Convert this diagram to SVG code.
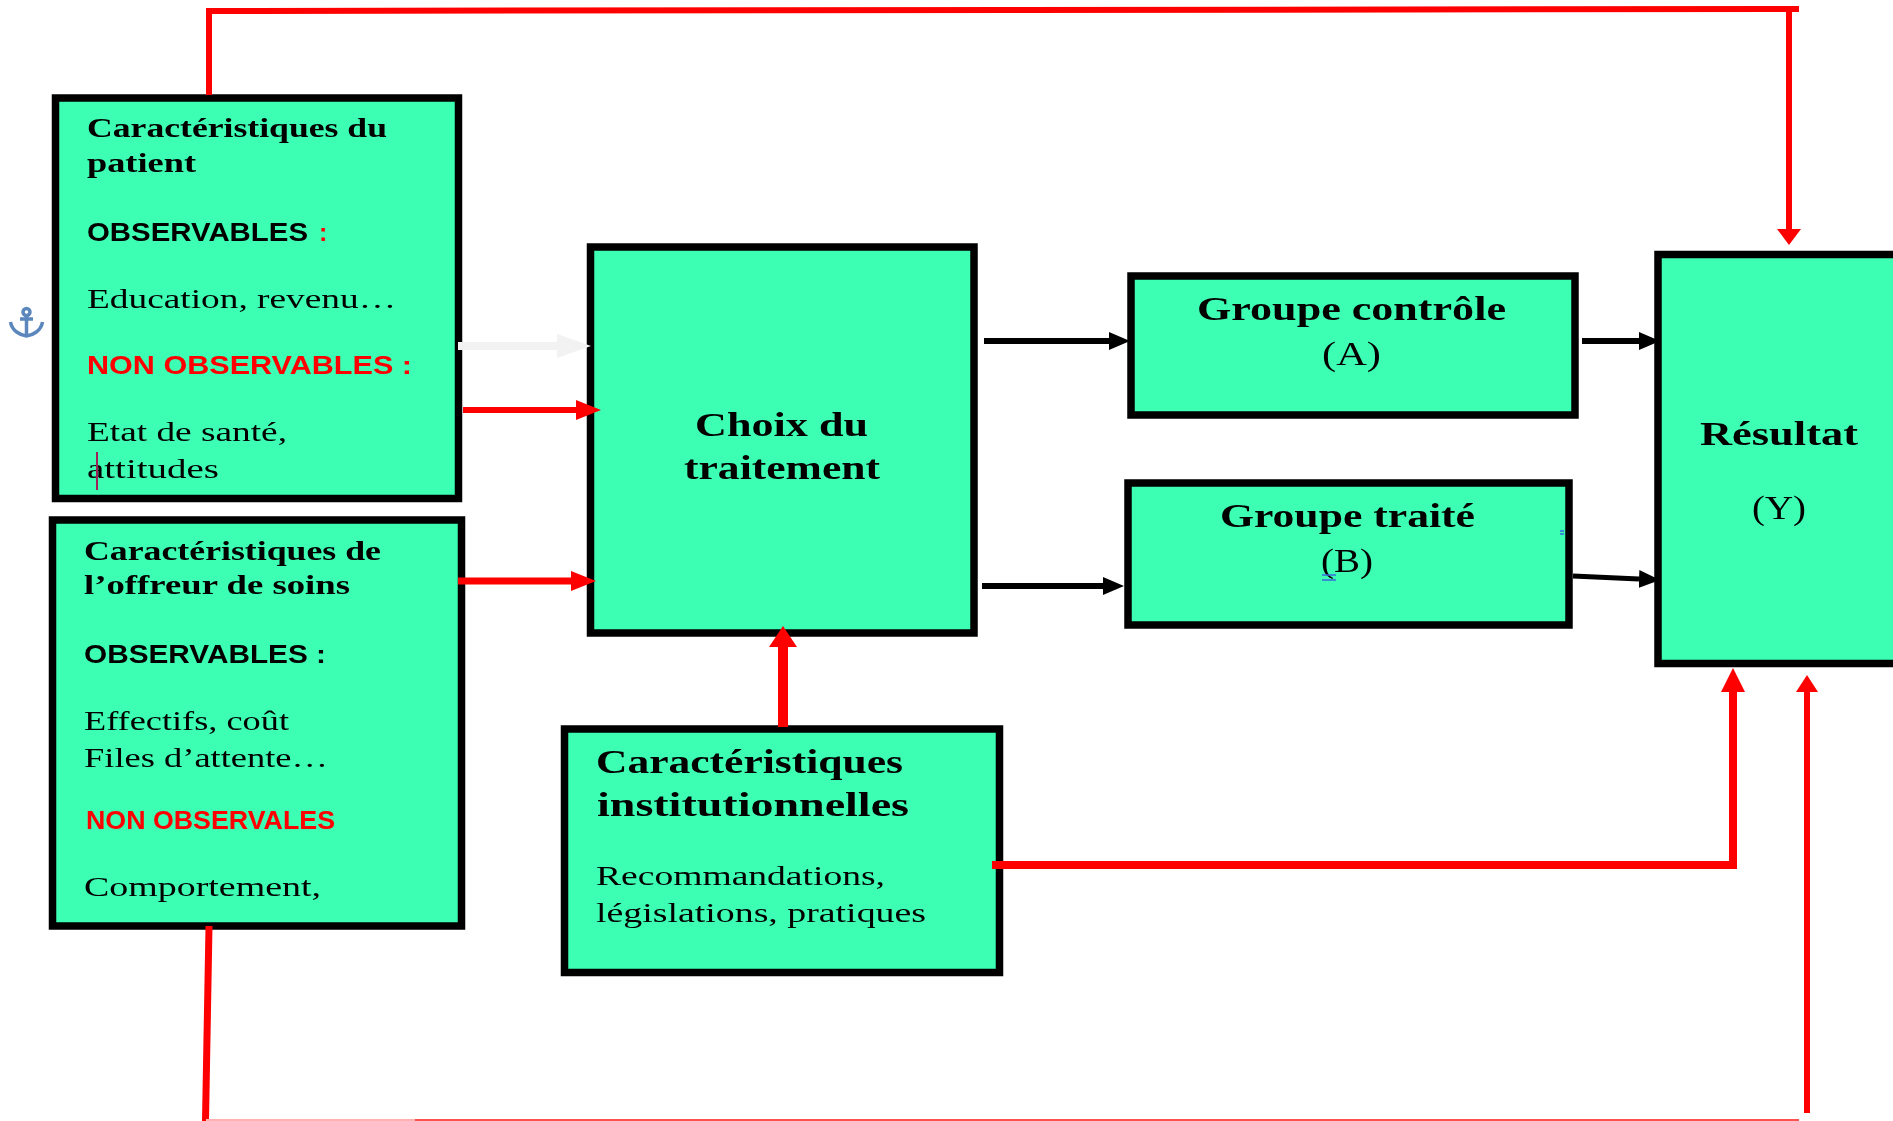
<svg xmlns="http://www.w3.org/2000/svg" width="1893" height="1121" viewBox="0 0 1893 1121">
<style>
.box{fill:#3dffb3;stroke:#000;stroke-width:7.500}
text{font-family:"Liberation Serif","DejaVu Serif",serif;fill:#000;filter:url(#soft)}
.t{font-weight:bold;font-size:28px}
.r{font-size:28px}
.big{font-weight:bold;font-size:34px}
.rbig{font-size:33px}
.s{font-family:"Liberation Sans","DejaVu Sans",sans-serif;font-weight:bold;font-size:25px}
.red{fill:#f00}
.cr{fill:none;stroke:#f00}
.cb{fill:none;stroke:#000}
</style>
<defs>
<filter id="soft" x="-5%" y="-20%" width="110%" height="140%"><feGaussianBlur stdDeviation="0.45"/></filter>
<marker id="mRedSide" viewBox="0 0 10 10" refX="0" refY="5" markerUnits="userSpaceOnUse" markerWidth="25" markerHeight="20" orient="auto" preserveAspectRatio="none"><path d="M0 0L10 5L0 10Z" fill="#f00"/></marker>
<marker id="mRedUp" viewBox="0 0 10 10" refX="0" refY="5" markerUnits="userSpaceOnUse" markerWidth="21" markerHeight="28" orient="auto" preserveAspectRatio="none"><path d="M0 0L10 5L0 10Z" fill="#f00"/></marker>
<marker id="mRedInst" viewBox="0 0 10 10" refX="0" refY="5" markerUnits="userSpaceOnUse" markerWidth="24" markerHeight="24" orient="auto" preserveAspectRatio="none"><path d="M0 0L10 5L0 10Z" fill="#f00"/></marker>
<marker id="mRedTop" viewBox="0 0 10 10" refX="0" refY="5" markerUnits="userSpaceOnUse" markerWidth="16" markerHeight="24" orient="auto" preserveAspectRatio="none"><path d="M0 0L10 5L0 10Z" fill="#f00"/></marker>
<marker id="mRedBot" viewBox="0 0 10 10" refX="0" refY="5" markerUnits="userSpaceOnUse" markerWidth="17" markerHeight="22" orient="auto" preserveAspectRatio="none"><path d="M0 0L10 5L0 10Z" fill="#f00"/></marker>
<marker id="mBlack" viewBox="0 0 10 10" refX="0" refY="5" markerUnits="userSpaceOnUse" markerWidth="21" markerHeight="18" orient="auto" preserveAspectRatio="none"><path d="M0 0L10 5L0 10Z" fill="#000"/></marker>
<marker id="mGrey" viewBox="0 0 10 10" refX="0" refY="5" markerUnits="userSpaceOnUse" markerWidth="34" markerHeight="24" orient="auto" preserveAspectRatio="none"><path d="M0 0L10 5L0 10Z" fill="#f2f2f2"/></marker>
</defs>
<rect width="1893" height="1121" fill="#fff"/>
<g id="anchor-icon" fill="none" stroke="#5b87bd" stroke-width="3.500">
<circle cx="26.500" cy="312" r="3.500"/>
<path d="M26.500 315V335M20 319H33M10.500 322C12 331 20 335 26.500 336C33 335 41 331 42.500 322"/>
</g>
<g id="node-patient">
<rect class="box" x="55.500" y="98" width="403" height="400.500"/>
<text class="t" x="87" y="137" textLength="300" lengthAdjust="spacingAndGlyphs">Caractéristiques du</text>
<text class="t" x="87" y="172" textLength="109" lengthAdjust="spacingAndGlyphs">patient</text>
<text class="s" x="87" y="241" textLength="221" lengthAdjust="spacingAndGlyphs">OBSERVABLES</text>
<text class="s red" x="319" y="241">:</text>
<text class="r" x="87" y="308" textLength="309" lengthAdjust="spacingAndGlyphs">Education, revenu…</text>
<text class="s red" x="87" y="374" textLength="325" lengthAdjust="spacingAndGlyphs">NON OBSERVABLES :</text>
<text class="r" x="87" y="441" textLength="200" lengthAdjust="spacingAndGlyphs">Etat de santé,</text>
<text class="r" x="87" y="478" textLength="132" lengthAdjust="spacingAndGlyphs">attitudes</text>
<path d="M97 452V490" stroke="#a0205a" stroke-width="2"/>
</g>
<g id="node-offreur">
<rect class="box" x="52.500" y="520" width="409" height="406"/>
<text class="t" x="84" y="560" textLength="297" lengthAdjust="spacingAndGlyphs">Caractéristiques de</text>
<text class="t" x="84" y="594" textLength="266" lengthAdjust="spacingAndGlyphs">l’offreur de soins</text>
<text class="s" x="84" y="663" textLength="242" lengthAdjust="spacingAndGlyphs">OBSERVABLES :</text>
<text class="r" x="84" y="730" textLength="205" lengthAdjust="spacingAndGlyphs">Effectifs, coût</text>
<text class="r" x="84" y="767" textLength="244" lengthAdjust="spacingAndGlyphs">Files d’attente…</text>
<text class="s red" x="86" y="829" textLength="249" lengthAdjust="spacingAndGlyphs">NON OBSERVALES</text>
<text class="r" x="84" y="896" textLength="237" lengthAdjust="spacingAndGlyphs">Comportement,</text>
</g>
<g id="node-choix">
<rect class="box" x="590.500" y="247" width="383.500" height="386"/>
<text class="big" x="695" y="436" textLength="173" lengthAdjust="spacingAndGlyphs">Choix du</text>
<text class="big" x="684" y="479" textLength="196" lengthAdjust="spacingAndGlyphs">traitement</text>
</g>
<g id="node-institution">
<rect class="box" x="564.500" y="729" width="435" height="243.500"/>
<text class="big" x="596" y="773" textLength="307" lengthAdjust="spacingAndGlyphs">Caractéristiques</text>
<text class="big" x="597" y="816" textLength="312" lengthAdjust="spacingAndGlyphs">institutionnelles</text>
<text class="r" x="596" y="885" textLength="289" lengthAdjust="spacingAndGlyphs">Recommandations,</text>
<text class="r" x="596" y="922" textLength="330" lengthAdjust="spacingAndGlyphs">législations, pratiques</text>
</g>
<g id="node-controle">
<rect class="box" x="1131" y="276" width="444" height="139"/>
<text class="big" x="1197" y="320" textLength="309" lengthAdjust="spacingAndGlyphs">Groupe contrôle</text>
<text class="rbig" x="1322" y="365" textLength="59" lengthAdjust="spacingAndGlyphs">(A)</text>
</g>
<g id="node-traite">
<rect class="box" x="1128" y="483" width="441" height="142"/>
<text class="big" x="1220" y="527" textLength="255" lengthAdjust="spacingAndGlyphs">Groupe traité</text>
<text class="rbig" x="1321" y="572" textLength="52" lengthAdjust="spacingAndGlyphs">(B)</text>
<path d="M1322 575H1336M1322 580H1336M1560 531H1564M1560 534H1564" stroke="#3a6be0" stroke-width="1.500" fill="none"/>
</g>
<g id="node-resultat">
<rect class="box" x="1658" y="254.500" width="260" height="409"/>
<text class="big" x="1700" y="445" textLength="158" lengthAdjust="spacingAndGlyphs">Résultat</text>
<text class="rbig" x="1752" y="519" textLength="54" lengthAdjust="spacingAndGlyphs">(Y)</text>
</g>
<g id="connectors">
<path class="cr" stroke-width="6" d="M209 95V11L1799 9"/>
<path class="cr" stroke-width="6" marker-end="url(#mRedTop)" d="M1789 9V229"/>
<path d="M458 346H557" fill="none" stroke="#f2f2f2" stroke-width="8" marker-end="url(#mGrey)"/>
<path class="cr" stroke-width="6" marker-end="url(#mRedSide)" d="M463 410H576"/>
<path class="cr" stroke-width="7" marker-end="url(#mRedSide)" d="M458 581H571"/>
<path class="cr" stroke-width="10" marker-end="url(#mRedUp)" d="M783 727V647"/>
<path class="cb" stroke-width="6" marker-end="url(#mBlack)" d="M984 341H1109"/>
<path class="cb" stroke-width="6" marker-end="url(#mBlack)" d="M982 586H1103"/>
<path class="cb" stroke-width="6" marker-end="url(#mBlack)" d="M1582 341H1639"/>
<path class="cb" stroke-width="5" marker-end="url(#mBlack)" d="M1573 576L1639 579"/>
<path class="cr" stroke-width="8" marker-end="url(#mRedInst)" d="M992 865H1733V692"/>
<path class="cr" stroke-width="7" d="M209 926L205.500 1121"/>
<path d="M206 1120H415" fill="none" stroke="#ffb0b0" stroke-width="2"/>
<path d="M415 1120H1799" fill="none" stroke="#ff5050" stroke-width="2"/>
<path class="cr" stroke-width="6" marker-end="url(#mRedBot)" d="M1807 1113V692"/>
</g>
</svg>
